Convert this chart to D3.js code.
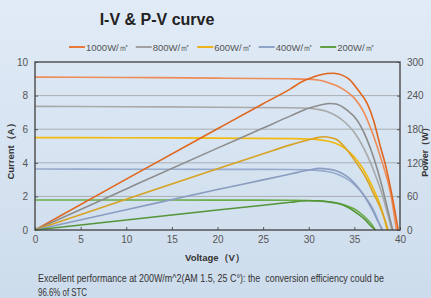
<!DOCTYPE html>
<html>
<head>
<meta charset="utf-8">
<script src="https://cdn.jsdelivr.net/npm/d3@7"></script>
<style>
  html, body { margin: 0; padding: 0; }
  body { width: 431px; height: 298px; overflow: hidden; }
  svg { display: block; font-family: "Liberation Sans", Arial, sans-serif; }
</style>
</head>
<body>
<svg id="chart" width="431" height="298"></svg>
<script>
// irradiance levels (legend order)
const levels = ["1000W/㎡", "800W/㎡", "600W/㎡", "400W/㎡", "200W/㎡"];

// I-V curves: [voltage V, current A]
const iv1000 = [[0, 9.10], [10, 9.08], [20, 9.04], [28, 9.00], [30, 8.97], [31, 8.93], [32, 8.80], [33, 8.60], [34, 8.30], [35, 7.85], [36, 7.05], [37, 5.75], [38, 4.10], [39, 2.10], [39.6, 0]];
const iv800 = [[0, 7.36], [10, 7.34], [20, 7.31], [28, 7.28], [30, 7.25], [31, 7.18], [32, 7.05], [33, 6.80], [34, 6.40], [35, 5.80], [36, 4.90], [37, 3.70], [38, 2.20], [39.1, 0]];
const iv600 = [[0, 5.50], [10, 5.49], [20, 5.47], [28, 5.44], [30, 5.42], [31, 5.38], [32, 5.30], [33, 5.15], [34, 4.85], [35, 4.35], [36, 3.60], [37, 2.55], [38, 1.20], [38.6, 0]];
const iv400 = [[0, 3.63], [10, 3.62], [20, 3.61], [28, 3.60], [30, 3.58], [31, 3.55], [32, 3.48], [33, 3.35], [34, 3.10], [35, 2.70], [36, 2.10], [37, 1.30], [38, 0]];
const iv200 = [[0, 1.79], [10, 1.79], [20, 1.78], [28, 1.77], [30, 1.76], [31, 1.74], [32, 1.70], [33, 1.62], [34, 1.48], [35, 1.25], [36, 0.85], [36.8, 0.40], [37.3, 0]];

// P-V curves: [voltage V, power W]
const pv1000 = [[0, 0], [10, 90.8], [20, 180.8], [25, 225.5], [28, 252], [29.4, 266], [30, 270], [31, 276], [32, 279.5], [32.7, 280], [33.6, 277], [34.5, 268], [35.4, 250], [36.4, 226], [37.1, 196], [37.8, 152], [38.5, 110], [39.2, 55], [39.8, 0]];
const pv800 = [[0, 0], [10, 73.4], [20, 146.2], [25, 182], [28, 203.8], [30, 217.5], [31, 222], [32, 225.5], [32.3, 226], [33, 225], [34.2, 214], [35.3, 196], [36.4, 161], [37.2, 125], [38, 80], [38.6, 40], [39.2, 0]];
const pv600 = [[0, 0], [10, 54.9], [20, 109.4], [25, 136], [28, 152], [30, 161], [31, 165], [31.6, 166.5], [32, 166], [33, 162], [34.2, 143], [35.3, 118], [36.4, 89], [37.1, 65], [37.8, 41.6], [38.3, 20], [38.7, 0]];
const pv400 = [[0, 0], [10, 36.2], [20, 72.2], [25, 89.5], [28, 100], [30, 107], [31.2, 110], [32, 109], [33, 106], [34, 98], [35, 84], [36, 63], [37, 35], [37.6, 15], [38.1, 0]];
const pv200 = [[0, 0], [10, 17.9], [20, 35.6], [25, 44.3], [28, 49.5], [29.8, 52.3], [31, 52], [32, 50.5], [33.1, 47.7], [34, 43], [35.3, 29.8], [36.2, 18], [36.7, 8.9], [37.3, 0]];

const ivCurves = [iv1000, iv800, iv600, iv400, iv200];
const pvCurves = [pv1000, pv800, pv600, pv400, pv200];

const xTicks = [0, 5, 10, 15, 20, 25, 30, 35, 40];
const iTicks = [0, 2, 4, 6, 8, 10];
const pTicks = [0, 60, 120, 180, 240, 300];

// colours: legend, I-V (lighter), P-V (darker)
const legendColors = ["#e8793a", "#a0a0a0", "#ecb21c", "#8fa4c8", "#62a044"];
const ivColors = ["#ee8c58", "#a9a9a9", "#f2ba10", "#96aacd", "#6aab48"];
const pvColors = ["#e0661e", "#8d8d8d", "#d8a222", "#8a9cc0", "#55953a"];

const svg = d3.select("#chart");

// background
const defs = svg.append("defs");
const grad = defs.append("linearGradient").attr("id", "bg")
  .attr("x1", 0).attr("y1", 0).attr("x2", 0).attr("y2", 1);
grad.append("stop").attr("offset", "0%").attr("stop-color", "#e0ebf6");
grad.append("stop").attr("offset", "100%").attr("stop-color", "#cddcec");
svg.append("rect").attr("width", 431).attr("height", 298).attr("fill", "url(#bg)");

const plot = { left: 35, right: 400, top: 62, bottom: 230 };

const x = d3.scaleLinear().domain([0, 40]).range([plot.left, plot.right]);
const yI = d3.scaleLinear().domain([0, 10]).range([plot.bottom, plot.top]);
const yP = d3.scaleLinear().domain([0, 300]).range([plot.bottom, plot.top]);

// title
svg.append("text")
  .attr("x", 157).attr("y", 25)
  .attr("text-anchor", "middle")
  .attr("font-size", 16).attr("font-weight", "bold")
  .attr("fill", "#222")
  .text("I-V & P-V curve");

// gridlines
svg.append("g").selectAll("line")
  .data(iTicks.filter(d => d > 0 && d < 10))
  .join("line")
  .attr("x1", plot.left).attr("x2", plot.right)
  .attr("y1", d => yI(d)).attr("y2", d => yI(d))
  .attr("stroke", "#a9aeb4").attr("stroke-width", 1);

// axes
const axisStyle = g => {
  g.select(".domain").remove();
  g.selectAll(".tick line").attr("stroke", "#555");
  g.selectAll(".tick text").attr("fill", "#555").attr("font-size", 10);
};

svg.append("g")
  .attr("transform", `translate(0,${plot.bottom})`)
  .call(d3.axisBottom(x).tickValues(xTicks).tickSize(-3).tickPadding(6))
  .call(axisStyle);

svg.append("g")
  .attr("transform", `translate(${plot.left},0)`)
  .call(d3.axisLeft(yI).tickValues(iTicks).tickSize(-3).tickPadding(7))
  .call(axisStyle);

svg.append("g")
  .attr("transform", `translate(${plot.right},0)`)
  .call(d3.axisRight(yP).tickValues(pTicks).tickSize(-3).tickPadding(7))
  .call(axisStyle);

// curves
const ivLine = d3.line().x(d => x(d[0])).y(d => yI(d[1])).curve(d3.curveMonotoneX);
const pvLine = d3.line().x(d => x(d[0])).y(d => yP(d[1])).curve(d3.curveMonotoneX);

svg.append("g").selectAll("path")
  .data(ivCurves)
  .join("path")
  .attr("d", ivLine)
  .attr("fill", "none")
  .attr("stroke", (d, i) => ivColors[i])
  .attr("stroke-width", 1.6);

svg.append("g").selectAll("path")
  .data(pvCurves)
  .join("path")
  .attr("d", pvLine)
  .attr("fill", "none")
  .attr("stroke", (d, i) => pvColors[i])
  .attr("stroke-width", 1.6);

// frame
svg.append("rect")
  .attr("x", plot.left).attr("y", plot.top)
  .attr("width", plot.right - plot.left).attr("height", plot.bottom - plot.top)
  .attr("fill", "none").attr("stroke", "#4a4a4a").attr("stroke-width", 1.4);

// legend
const legend = svg.append("g").attr("transform", "translate(69,47)");
let lx = 0;
levels.forEach((name, i) => {
  legend.append("line")
    .attr("x1", lx).attr("x2", lx + 16).attr("y1", 0).attr("y2", 0)
    .attr("stroke", legendColors[i]).attr("stroke-width", 2);
  const t = legend.append("text")
    .attr("x", lx + 17).attr("y", 3.5)
    .attr("font-size", 9.5).attr("fill", "#555")
    .text(name);
  lx += 17 + t.node().getComputedTextLength() + 7;
});

// axis titles
svg.append("text")
  .attr("transform", "translate(14,149) rotate(-90)")
  .attr("text-anchor", "middle")
  .attr("font-size", 9.5).attr("font-weight", "bold").attr("fill", "#333")
  .text("Current（A）");

svg.append("text")
  .attr("transform", "translate(428,150) rotate(-90)")
  .attr("text-anchor", "middle")
  .attr("font-size", 9).attr("font-weight", "bold").attr("fill", "#333")
  .text("Power（W）");

svg.append("text")
  .attr("x", 215).attr("y", 261)
  .attr("text-anchor", "middle")
  .attr("font-size", 9.5).attr("font-weight", "bold").attr("fill", "#333")
  .text("Voltage（V）");

// footnote
svg.append("text")
  .attr("x", 38).attr("y", 282)
  .attr("font-size", 10).attr("fill", "#333")
  .style("white-space", "pre")
  .attr("textLength", 346).attr("lengthAdjust", "spacingAndGlyphs")
  .text("Excellent performance at 200W/m^2(AM 1.5, 25 C°): the  conversion efficiency could be");

svg.append("text")
  .attr("x", 38).attr("y", 296)
  .attr("font-size", 10).attr("fill", "#333")
  .attr("textLength", 49).attr("lengthAdjust", "spacingAndGlyphs")
  .text("96.6% of STC");
</script>
</body>
</html>
